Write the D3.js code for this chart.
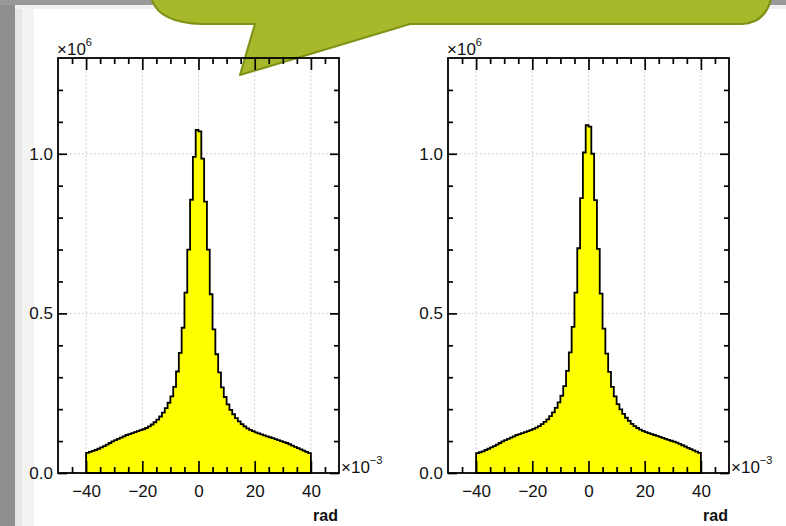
<!DOCTYPE html>
<html>
<head>
<meta charset="utf-8">
<script src="https://cdn.jsdelivr.net/npm/d3@7/dist/d3.min.js"></script>
<style>
html,body{margin:0;padding:0;background:#fff;}
svg{display:block;font-family:"Liberation Sans",Arial,Helvetica,sans-serif;}
</style>
</head>
<body>
<script>
// ---- data (counts in units of 1e6, bins of 1 mrad from -40 to 40) ----
const binStart = -40;
const binWidth = 1;
const leftCounts = [
  0.063,0.066,0.069,0.072,0.076,0.080,0.084,0.089,0.094,0.099,
  0.103,0.107,0.111,0.115,0.119,0.122,0.125,0.128,0.131,0.134,
  0.137,0.141,0.146,0.152,0.159,0.167,0.177,0.189,0.203,0.220,
  0.240,0.270,0.318,0.376,0.455,0.565,0.700,0.856,0.990,1.075,
  1.070,0.985,0.850,0.700,0.560,0.450,0.372,0.315,0.268,0.238,
  0.215,0.198,0.184,0.172,0.162,0.153,0.146,0.140,0.135,0.131,
  0.127,0.124,0.121,0.118,0.115,0.112,0.109,0.106,0.103,0.100,
  0.097,0.094,0.090,0.086,0.082,0.078,0.074,0.070,0.066,0.062
];
const rightCounts = [
  0.062,0.065,0.068,0.072,0.076,0.080,0.084,0.089,0.094,0.099,
  0.103,0.107,0.111,0.115,0.119,0.122,0.125,0.128,0.131,0.134,
  0.138,0.142,0.147,0.153,0.160,0.168,0.178,0.190,0.204,0.221,
  0.242,0.272,0.320,0.378,0.458,0.565,0.704,0.861,1.004,1.090,
  1.085,1.000,0.855,0.702,0.562,0.452,0.374,0.317,0.270,0.240,
  0.216,0.199,0.185,0.173,0.163,0.154,0.147,0.141,0.136,0.132,
  0.128,0.125,0.122,0.119,0.116,0.113,0.110,0.107,0.104,0.101,
  0.098,0.095,0.091,0.087,0.083,0.079,0.075,0.071,0.067,0.063
];
const xDomain = [-50, 50];
const yDomain = [0, 1.3];
const xMajorTicks = [-40, -20, 0, 20, 40];
const xTickLabels = ["\u221240", "\u221220", "0", "20", "40"];
const xMinorTicks = [-45,-35,-30,-25,-15,-10,-5,5,10,15,25,30,35,45];
const yMajorTicks = [0, 0.5, 1.0];
const yTickLabels = ["0.0", "0.5", "1.0"];
const yMinorTicks = [0.1,0.2,0.3,0.4,0.6,0.7,0.8,0.9,1.1,1.2];
const xTitle = "rad";

const W = 786, H = 526;
const svg = d3.select("body").append("svg").attr("width", W).attr("height", H);

// ---- slide background ----
svg.append("rect").attr("x",0).attr("y",0).attr("width",W).attr("height",H).attr("fill","#fff");
svg.append("rect").attr("x",0).attr("y",0).attr("width",15).attr("height",H).attr("fill","#8f8f8f");
svg.append("rect").attr("x",15).attr("y",0).attr("width",7).attr("height",H).attr("fill","#e6e6e6");
svg.append("rect").attr("x",22).attr("y",0).attr("width",12).attr("height",H).attr("fill","#f3f3f3");
svg.append("rect").attr("x",0).attr("y",0).attr("width",W).attr("height",5).attr("fill","#999");
svg.append("rect").attr("x",15).attr("y",5).attr("width",W-15).attr("height",4).attr("fill","#f0f0f0");

// ---- callout ----
svg.append("path")
  .attr("d","M152,-10 L152,0 Q160,23 202,24 L255,24 L240,75 L410,24 L742,24 Q770,22 772,-10 Z")
  .attr("fill","#a7b92a").attr("stroke","#7f9318").attr("stroke-width",2.2)
  .attr("stroke-linejoin","round");

function panel(x0, x1, counts) {
  const y0 = 473, y1 = 58;
  const x = d3.scaleLinear().domain(xDomain).range([x0, x1]);
  const y = d3.scaleLinear().domain(yDomain).range([y0, y1]);
  const g = svg.append("g");

  // grid
  g.selectAll(".vg").data(xMajorTicks).enter().append("line")
    .attr("x1", d => x(d)).attr("x2", d => x(d)).attr("y1", y0).attr("y2", y1)
    .attr("stroke","#c4c4c4").attr("stroke-width",1).attr("stroke-dasharray","1.5,2.5");
  g.selectAll(".hg").data(yMajorTicks.filter(d => d > 0)).enter().append("line")
    .attr("x1", x0).attr("x2", x1).attr("y1", d => y(d)).attr("y2", d => y(d))
    .attr("stroke","#c4c4c4").attr("stroke-width",1).attr("stroke-dasharray","1.5,2.5");

  // histogram
  const pts = [[x(binStart), y(0)]];
  counts.forEach((v, i) => {
    const e = binStart + i * binWidth;
    pts.push([x(e), y(v)]);
    pts.push([x(e + binWidth), y(v)]);
  });
  pts.push([x(binStart + counts.length * binWidth), y(0)]);
  g.append("path").attr("d", d3.line()(pts) + "Z")
    .attr("fill","#ffff00").attr("stroke","#000").attr("stroke-width",1.8)
    .attr("stroke-linejoin","miter");

  // axes
  const styleAxis = sel => {
    sel.select(".domain").remove();
    sel.selectAll(".tick line").attr("stroke","#000").attr("stroke-width",1.7);
    sel.selectAll("text").attr("font-size","17px").attr("fill","#111")
      .attr("font-family","'Liberation Sans',Arial,sans-serif");
  };
  const xl = d3.scaleOrdinal().domain(xMajorTicks).range(xTickLabels);
  const yl = d3.scaleOrdinal().domain(yMajorTicks).range(yTickLabels);

  g.append("g").attr("transform",`translate(0,${y0})`)
    .call(d3.axisBottom(x).tickValues(xMajorTicks).tickSize(-12).tickPadding(12).tickFormat(d => xl(d)))
    .call(styleAxis);
  g.append("g").attr("transform",`translate(0,${y0})`)
    .call(d3.axisBottom(x).tickValues(xMinorTicks).tickSize(-6).tickFormat(""))
    .call(styleAxis);
  g.append("g").attr("transform",`translate(0,${y1})`)
    .call(d3.axisTop(x).tickValues(xMajorTicks).tickSize(-12).tickFormat(""))
    .call(styleAxis);
  g.append("g").attr("transform",`translate(0,${y1})`)
    .call(d3.axisTop(x).tickValues(xMinorTicks).tickSize(-6).tickFormat(""))
    .call(styleAxis);
  g.append("g").attr("transform",`translate(${x0},0)`)
    .call(d3.axisLeft(y).tickValues(yMajorTicks).tickSize(-9).tickPadding(5).tickFormat(d => yl(d)))
    .call(styleAxis);
  g.append("g").attr("transform",`translate(${x0},0)`)
    .call(d3.axisLeft(y).tickValues(yMinorTicks).tickSize(-5).tickFormat(""))
    .call(styleAxis);
  g.append("g").attr("transform",`translate(${x1},0)`)
    .call(d3.axisRight(y).tickValues(yMajorTicks).tickSize(-9).tickFormat(""))
    .call(styleAxis);
  g.append("g").attr("transform",`translate(${x1},0)`)
    .call(d3.axisRight(y).tickValues(yMinorTicks).tickSize(-5).tickFormat(""))
    .call(styleAxis);

  // frame
  g.append("rect").attr("x", x0).attr("y", y1).attr("width", x1 - x0).attr("height", y0 - y1)
    .attr("fill","none").attr("stroke","#000").attr("stroke-width",1.8);

  // exponent labels
  const e6 = g.append("text").attr("x", x0 - 1).attr("y", 55).attr("font-size","17px").attr("fill","#111");
  e6.append("tspan").text("\u00d710");
  e6.append("tspan").attr("dy",-9).attr("font-size","11px").text("6");
  const e3 = g.append("text").attr("x", x1 + 2).attr("y", 473).attr("font-size","17px").attr("fill","#111");
  e3.append("tspan").text("\u00d710");
  e3.append("tspan").attr("dy",-9).attr("font-size","11px").text("\u22123");

  // x title
  g.append("text").attr("x", x1 - 1).attr("y", 521).attr("text-anchor","end")
    .attr("font-size","16px").attr("font-weight","bold").attr("fill","#111").text(xTitle);
}

panel(58, 339, leftCounts);
panel(448, 729, rightCounts);
</script>
</body>
</html>
